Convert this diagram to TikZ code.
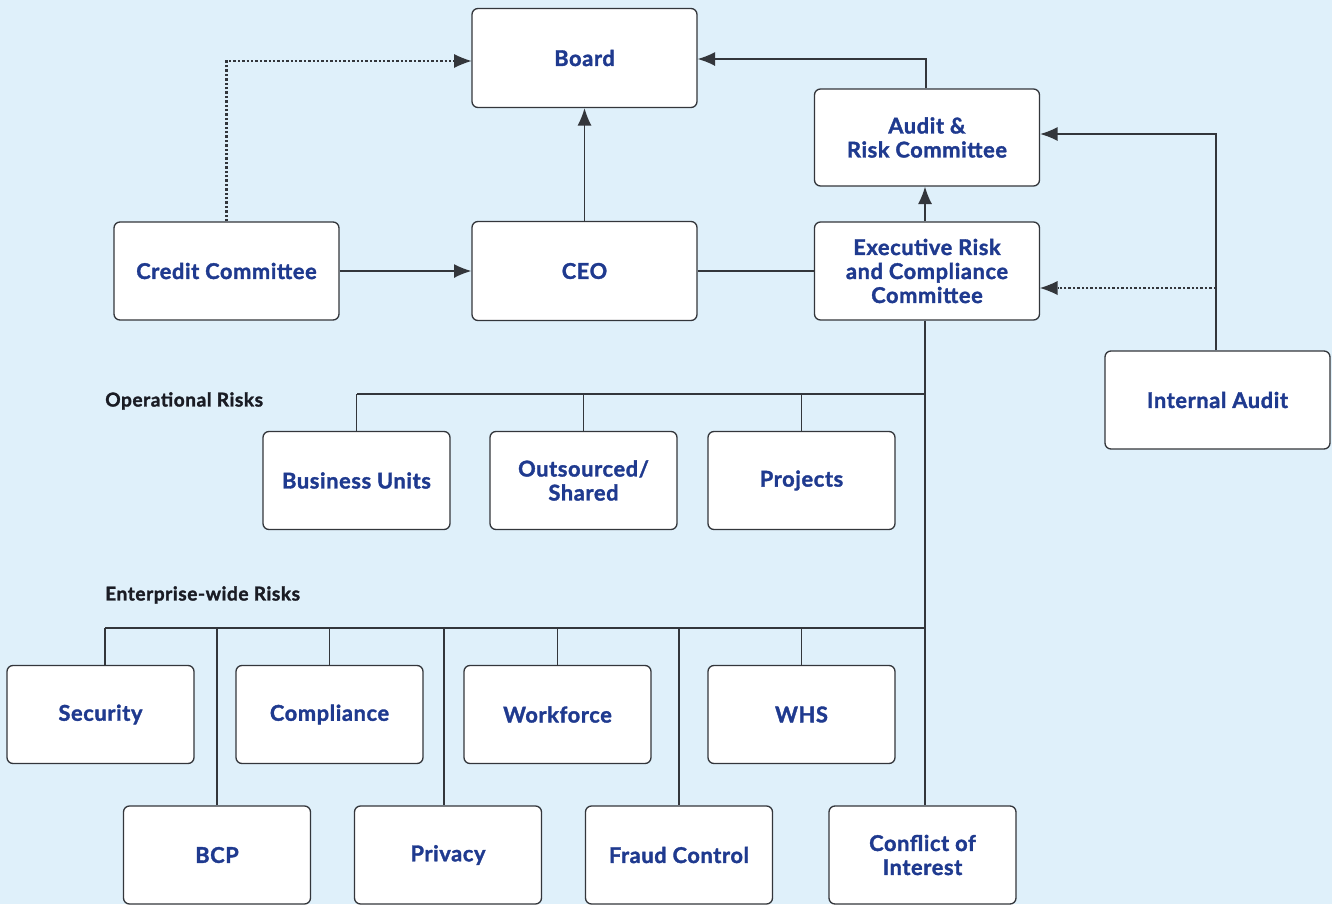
\documentclass[tikz,border=0pt]{standalone}
\usepackage{fontspec}
\setmainfont{Lato}[BoldFeatures={FakeBold=1.6,LetterSpace=3}]
\usetikzlibrary{arrows.meta}
\definecolor{bgc}{HTML}{DFF0FA}
\definecolor{txtblue}{HTML}{1F3A8F}
\definecolor{edgec}{HTML}{33363B}
\definecolor{lblc}{HTML}{1A1C24}
\tikzset{
  box/.style={draw=edgec, line width=1pt, fill=white, rounded corners=4.5pt,
    minimum width=140.25pt, minimum height=73.5pt, align=center,
    font=\fontsize{16.3}{18}\selectfont\bfseries, text=txtblue, inner sep=0pt},
  bigbox/.style={box, minimum width=168.75pt, minimum height=74.25pt},
  conn/.style={draw=edgec, line width=1pt},
  arr/.style={conn, -{Latex[length=13pt,width=10.5pt]}},
  dotarr/.style={conn, -{Latex[length=13pt,width=10.5pt,line width=0pt]}, dash pattern=on 1.8pt off 1.5pt, line width=2pt},
  grouplbl/.style={font=\fontsize{14.3}{16}\selectfont\bfseries, text=lblc, anchor=west, inner sep=0pt}
}
\begin{document}
\begin{tikzpicture}[x=0.75pt,y=-0.75pt]
\fill[bgc] (0,0) rectangle (1332,904);
\useasboundingbox (0,0) rectangle (1332,904);
% top level
\node[bigbox] (board) at (584.5,58) {Board};
\node[bigbox, minimum height=72.75pt] (arc) at (927,137.5) {Audit \&\\Risk Committee};
\node[bigbox, minimum height=73.5pt] (credit) at (226.5,271) {Credit Committee};
\node[bigbox] (ceo) at (584.5,271) {CEO};
\node[bigbox, minimum height=73.5pt] (exec) at (927,271) {Executive Risk\\and Compliance\\Committee};
\node[bigbox, minimum height=73.5pt] (ia) at (1217.5,400) {Internal Audit};
% operational
\node[box] (bu) at (356.5,480.5) {Business Units};
\node[box] (out) at (583.5,480.5) {Outsourced/\\Shared};
\node[box] (proj) at (801.5,480.5) {Projects};
% enterprise
\node[box] (sec) at (100.5,714.5) {Security};
\node[box] (comp) at (329.5,714.5) {Compliance};
\node[box] (work) at (557.5,714.5) {Workforce};
\node[box] (whs) at (801.5,714.5) {WHS};
\node[box] (bcp) at (217,855) {BCP};
\node[box] (priv) at (448,855) {Privacy};
\node[box] (fraud) at (679,855) {Fraud Control};
\node[box] (coi) at (922.5,855) {Conflict of\\Interest};
% labels
\node[grouplbl] (oplbl) at (105,401) {Operational Risks};
\node[grouplbl] (entlbl) at (105,595) {Enterprise-wide Risks};
% coordinates
\coordinate (spine) at (925,0);
\coordinate (opbus) at (925,394);
\coordinate (entbus) at (925,628);
\coordinate (credup) at (226.5,61);
\coordinate (arcup) at (926,59);
\coordinate (iaup) at (1216,134);
\coordinate (iadot) at (1216,288);
\coordinate (secdrop) at (105,628);
\coordinate (privdrop) at (444,628);
% connectors top
\draw[arr] (ceo.north) -- (board.south);
\draw[arr] (credit.east) -- (ceo.west);
\draw[dotarr] (credit.north) -- (credup) -- (credup -| board.west);
\draw[conn] (ceo.east) -- (exec.west);
\draw[arr] (exec.north -| spine) -- (arc.south -| spine);
\draw[arr] (arc.north -| arcup) -- (arcup) -- (arcup -| board.east);
\draw[arr] (ia.north -| iaup) -- (iaup) -- (iaup -| arc.east);
\draw[dotarr] (iadot) -- (iadot -| exec.east);
% spine
\draw[conn] (exec.south -| spine) -- (coi.north -| spine);
% operational bus
\draw[conn] (opbus) -- (opbus -| bu.north);
\draw[conn] (opbus -| bu.north) -- (bu.north);
\draw[conn] (opbus -| out.north) -- (out.north);
\draw[conn] (opbus -| proj.north) -- (proj.north);
% enterprise bus
\draw[conn] (entbus) -- (secdrop);
\draw[conn] (secdrop) -- (secdrop |- sec.north);
\draw[conn] (entbus -| bcp.north) -- (bcp.north);
\draw[conn] (entbus -| comp.north) -- (comp.north);
\draw[conn] (privdrop) -- (privdrop |- priv.north);
\draw[conn] (entbus -| work.north) -- (work.north);
\draw[conn] (entbus -| fraud.north) -- (fraud.north);
\draw[conn] (entbus -| whs.north) -- (whs.north);
\end{tikzpicture}
\end{document}
